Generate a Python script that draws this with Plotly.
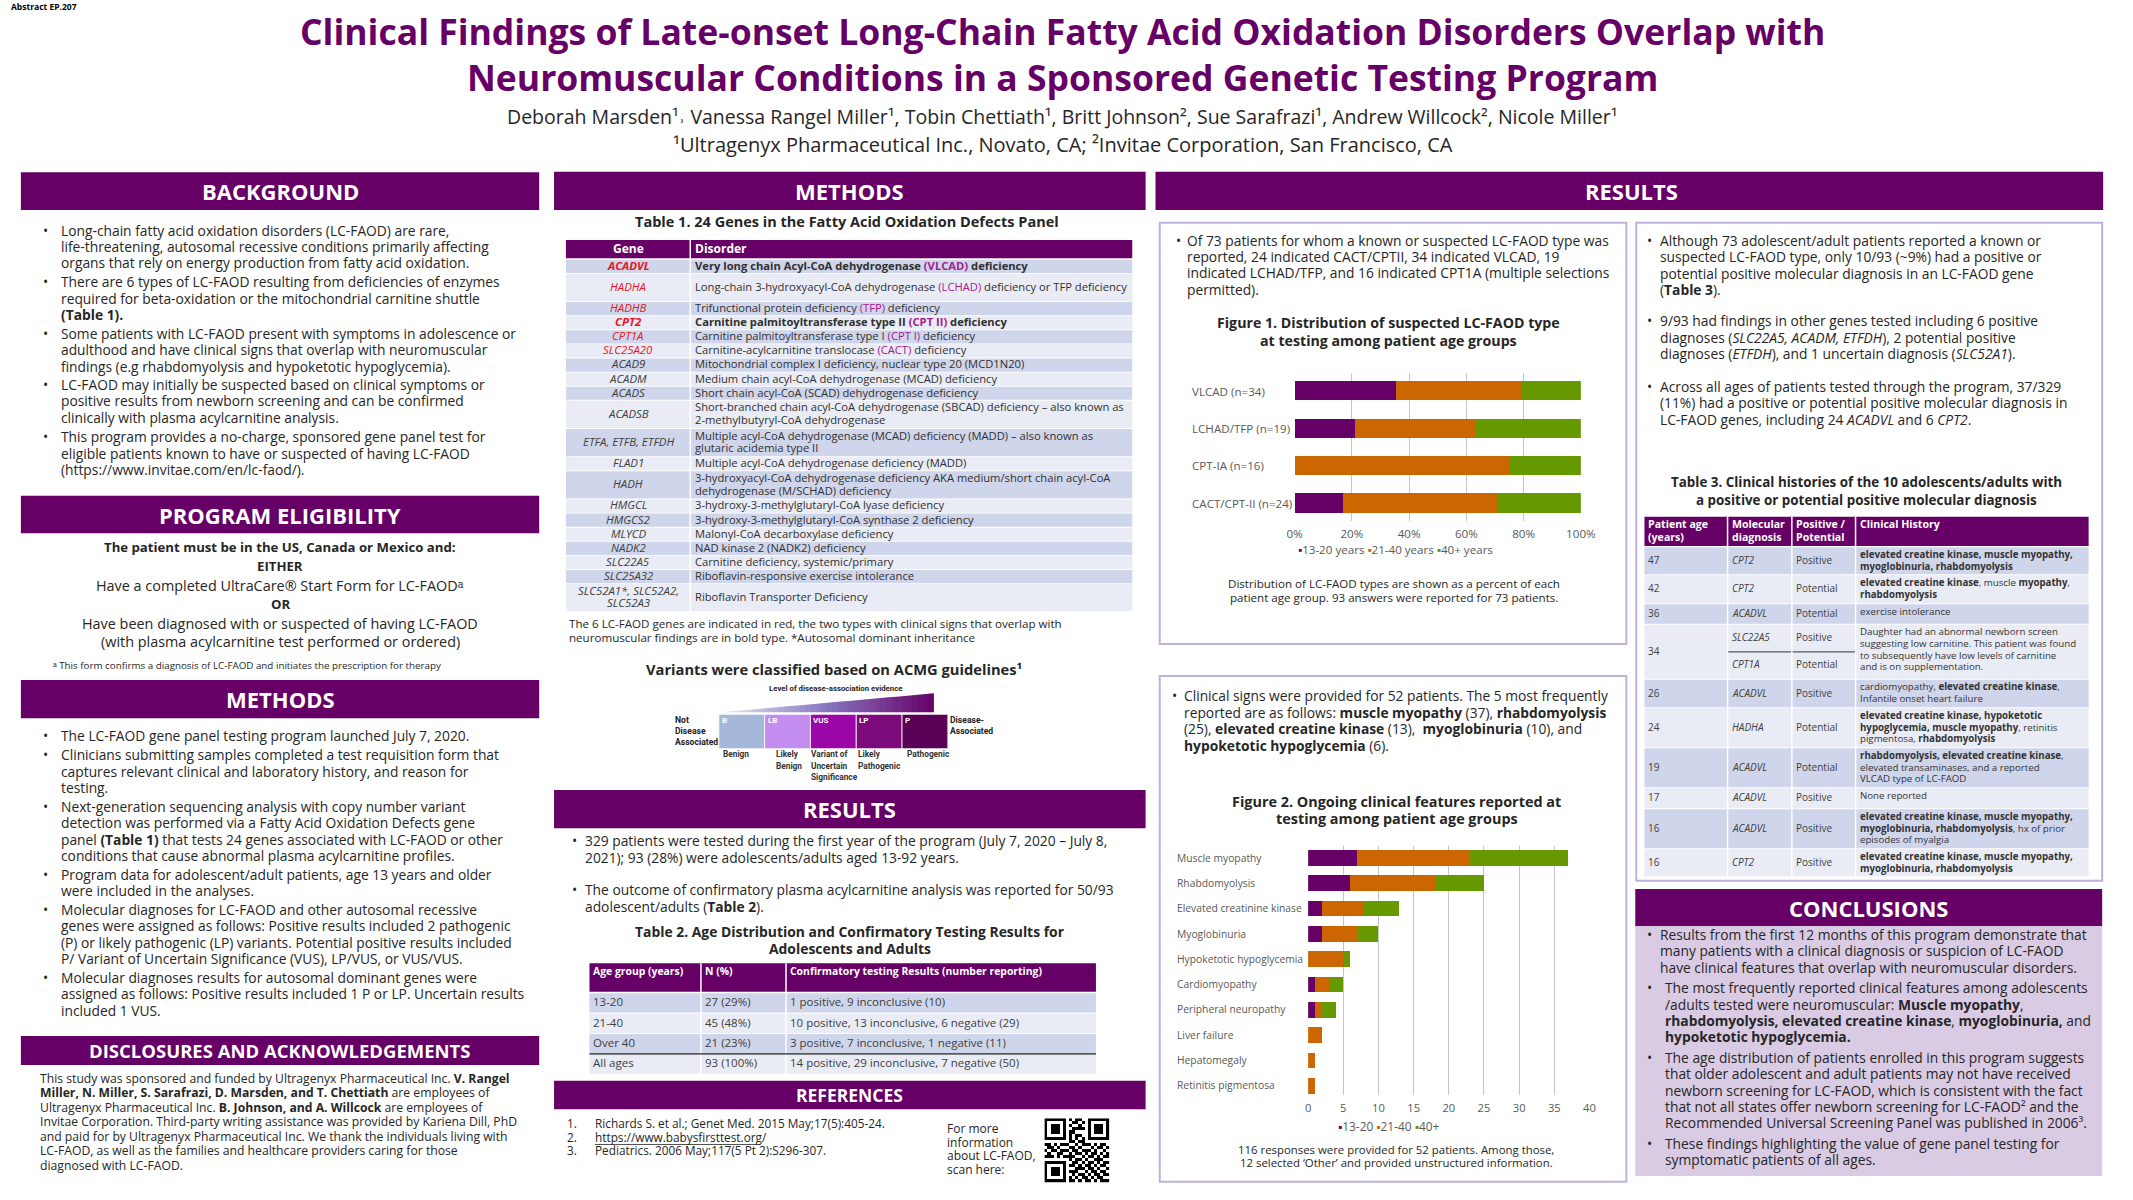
import re
import plotly.graph_objects as go

W, H = 2133, 1200

# ------------------------------------------------------------------ data
fig1_types = ["VLCAD (n=34)", "LCHAD/TFP (n=19)", "CPT-IA (n=16)", "CACT/CPT-II (n=24)"]
fig1_groups = ["13-20 years", "21-40 years", "40+ years"]
fig1_pct_13_20 = [35.3, 21.1, 0.0, 16.7]
fig1_pct_21_40 = [44.1, 42.1, 75.0, 54.2]
fig1_pct_40_plus = [20.6, 36.8, 25.0, 29.1]
fig1_ticks = [0, 20, 40, 60, 80, 100]
fig1_ticklabels = ["0%", "20%", "40%", "60%", "80%", "100%"]

fig2_features = ["Muscle myopathy", "Rhabdomyolysis", "Elevated creatinine kinase", "Myoglobinuria",
                 "Hypoketotic hypoglycemia", "Cardiomyopathy", "Peripheral neuropathy",
                 "Liver failure", "Hepatomegaly", "Retinitis pigmentosa"]
fig2_groups = ["13-20", "21-40", "40+"]
fig2_13_20 = [7, 6, 2, 2, 0, 1, 1, 0, 0, 0]
fig2_21_40 = [16, 12, 6, 5, 5, 2, 1, 2, 1, 1]
fig2_40_plus = [14, 7, 5, 3, 1, 2, 2, 0, 0, 0]
fig2_ticks = [0, 5, 10, 15, 20, 25, 30, 35, 40]

t1_genes = ["ACADVL", "HADHA", "HADHB", "CPT2", "CPT1A", "SLC25A20", "ACAD9", "ACADM", "ACADS",
            "ACADSB", "ETFA, ETFB, ETFDH", "FLAD1", "HADH", "HMGCL", "HMGCS2", "MLYCD", "NADK2",
            "SLC22A5", "SLC25A32", "SLC52A1*, SLC52A2,<br>SLC52A3"]
t1_disorders = [
    "Very long chain Acyl-CoA dehydrogenase (VLCAD) deficiency",
    "Long-chain 3-hydroxyacyl-CoA dehydrogenase (LCHAD) deficiency or TFP deficiency",
    "Trifunctional protein deficiency (TFP) deficiency",
    "Carnitine palmitoyltransferase type II (CPT II) deficiency",
    "Carnitine palmitoyltransferase type I (CPT I) deficiency",
    "Carnitine-acylcarnitine translocase (CACT) deficiency",
    "Mitochondrial complex I deficiency, nuclear type 20 (MCD1N20)",
    "Medium chain acyl-CoA dehydrogenase (MCAD) deficiency",
    "Short chain acyl-CoA (SCAD) dehydrogenase deficiency",
    "Short-branched chain acyl-CoA dehydrogenase (SBCAD) deficiency \u2013 also known as<br>2-methylbutyryl-CoA dehydrogenase",
    "Multiple acyl-CoA dehydrogenase (MCAD) deficiency (MADD) \u2013 also known as<br>glutaric acidemia type II",
    "Multiple acyl-CoA dehydrogenase deficiency (MADD)",
    "3-hydroxyacyl-CoA dehydrogenase deficiency AKA medium/short chain acyl-CoA<br>dehydrogenase (M/SCHAD) deficiency",
    "3-hydroxy-3-methylglutaryl-CoA lyase deficiency",
    "3-hydroxy-3-methylglutaryl-CoA synthase 2 deficiency",
    "Malonyl-CoA decarboxylase deficiency",
    "NAD kinase 2 (NADK2) deficiency",
    "Carnitine deficiency, systemic/primary",
    "Riboflavin-responsive exercise intolerance",
    "Riboflavin Transporter Deficiency",
]
t1_lcfaod_genes = ["ACADVL", "HADHA", "HADHB", "CPT2", "CPT1A", "SLC25A20"]
t1_lcfaod_abbrev = ["(VLCAD)", "(LCHAD)", "(TFP)", "(CPT II)", "(CPT I)", "(CACT)"]
t1_bold_genes = ["ACADVL", "CPT2"]

t2_header = ["Age group (years)", "N (%)", "Confirmatory testing Results (number reporting)"]
t2_age = ["13-20", "21-40", "Over 40", "All ages"]
t2_n = ["27 (29%)", "45 (48%)", "21 (23%)", "93 (100%)"]
t2_results = ["1 positive, 9 inconclusive (10)",
              "10 positive, 13 inconclusive, 6 negative (29)",
              "3 positive, 7 inconclusive, 1 negative (11)",
              "14 positive, 29 inconclusive, 7 negative (50)"]

t3_header = ["Patient age<br>(years)", "Molecular<br>diagnosis", "Positive /<br>Potential", "Clinical History"]
t3_age = ["47", "42", "36", "34", "26", "24", "19", "17", "16", "16"]
t3_mol = [["CPT2"], ["CPT2"], ["ACADVL"], ["SLC22A5", "CPT1A"], ["ACADVL"], ["HADHA"],
          ["ACADVL"], ["ACADVL"], ["ACADVL"], ["CPT2"]]
t3_status = [["Positive"], ["Potential"], ["Potential"], ["Positive", "Potential"], ["Positive"],
             ["Potential"], ["Potential"], ["Positive"], ["Positive"], ["Positive"]]
t3_history = [
    "<b>elevated creatine kinase, muscle myopathy,</b><br><b>myoglobinuria, rhabdomyolysis</b>",
    "<b>elevated creatine kinase</b>, muscle <b>myopathy</b>,<br><b>rhabdomyolysis</b>",
    "exercise intolerance",
    "Daughter had an abnormal newborn screen<br>suggesting low carnitine. This patient was found<br>to subsequently have low levels of carnitine<br>and is on supplementation.",
    "cardiomyopathy, <b>elevated creatine kinase</b>,<br>Infantile onset heart failure",
    "<b>elevated creatine kinase, hypoketotic</b><br><b>hypoglycemia, muscle myopathy</b>, retinitis<br>pigmentosa, <b>rhabdomyolysis</b>",
    "<b>rhabdomyolysis, elevated creatine kinase</b>,<br>elevated transaminases, and a reported<br>VLCAD type of LC-FAOD",
    "None reported",
    "<b>elevated creatine kinase, muscle myopathy,</b><br><b>myoglobinuria, rhabdomyolysis</b>, hx of prior<br>episodes of myalgia",
    "<b>elevated creatine kinase, muscle myopathy,</b><br><b>myoglobinuria, rhabdomyolysis</b>",
]

acmg_codes = ["B", "LB", "VUS", "LP", "P"]
acmg_names = ["Benign", "Likely<br>Benign", "Variant of<br>Uncertain<br>Significance",
              "Likely<br>Pathogenic", "Pathogenic"]

references = ["Richards S. et al.; Genet Med. 2015 May;17(5):405-24.",
              "https://www.babysfirsttest.org/",
              "Pediatrics. 2006 May;117(5 Pt 2):S296-307."]

qr_rows = [
    "1111111" + "0101100" + "1111111",
    "1000001" + "0011010" + "1000001",
    "1011101" + "0100100" + "1011101",
    "1011101" + "0011110" + "1011101",
    "1011101" + "0110000" + "1011101",
    "1000001" + "0101100" + "1000001",
    "1111111" + "0101010" + "1111111",
    "0000000" + "0110110" + "0000000",
    "1101011" + "1001011" + "1010110",
    "0110100" + "0110100" + "0101101",
    "1011011" + "1011011" + "1010010",
    "0100110" + "0101101" + "0110101",
    "1110101" + "1110010" + "1101011",
    "0000000" + "0101101" + "0011100",
    "1111111" + "0011010" + "1101011",
    "1000001" + "0110101" + "1010110",
    "1011101" + "0001110" + "1101001",
    "1011101" + "0111001" + "0110110",
    "1011101" + "0010110" + "1011011",
    "1000001" + "0101011" + "0101100",
    "1111111" + "0110101" + "1010111",
]

# ------------------------------------------------------------------ styles
PURPLE = "#660066"
TXT = "#262626"
CELL_TXT = "#404040"
GRAY = "#595959"
GRID = "#c6c6c6"
ROW_DARK = "#cfd5ea"
ROW_LIGHT = "#e9ebf5"
BORDER = "#bfb1da"
CONC_BG = "#d9cbe4"
ABBR = "#a3208f"
RED = "#e8141e"
AGE_COLORS = ["#660066", "#cc6600", "#669900"]
ACMG_COLORS = ["#a5b8da", "#c38ef0", "#9a06a8", "#7d0a7a", "#5a0056"]
BODY = "Open Sans, Roboto, Liberation Sans, sans-serif"
NARROW = "Liberation Sans Narrow, Roboto, sans-serif"

shapes, annotations = [], []


def X(px):
    return px / W


def Y(py):
    return 1 - py / H


def rect(x0, y0, x1, y1, fill=None, line=None, lw=0, layer="below"):
    shapes.append(dict(type="rect", xref="paper", yref="paper",
                       x0=X(x0), x1=X(x1), y0=Y(y1), y1=Y(y0),
                       fillcolor=fill if fill else "rgba(0,0,0,0)",
                       line=dict(color=line if line else "rgba(0,0,0,0)", width=lw),
                       layer=layer))


def hline(x0, x1, y, color, lw):
    shapes.append(dict(type="line", xref="paper", yref="paper", x0=X(x0), x1=X(x1),
                       y0=Y(y), y1=Y(y), line=dict(color=color, width=lw)))


def vline(x, y0, y1, color, lw):
    shapes.append(dict(type="line", xref="paper", yref="paper", x0=X(x), x1=X(x),
                       y0=Y(y0), y1=Y(y1), line=dict(color=color, width=lw)))


def split_lines(s):
    out, open_tags = [], []
    for line in s.split("<br>"):
        prefix = "".join("<%s>" % t for t in open_tags)
        for m in re.finditer(r"<(/?)(b|i)>", line):
            if m.group(1):
                if m.group(2) in open_tags:
                    open_tags.remove(m.group(2))
            else:
                open_tags.append(m.group(2))
        suffix = "".join("</%s>" % t for t in reversed(open_tags))
        out.append(prefix + line + suffix)
    return out


def txt(x, y, s, size=12.5, color=TXT, xa="left", family=BODY, anchor="first", lh=None, caps=False):
    """Each line placed separately; y = centre of first line, or of the block if anchor='middle'."""
    lines = split_lines(s)
    if lh is None:
        lh = 1.3 * size
    y0 = y - (len(lines) - 1) * lh / 2 if anchor == "middle" else y
    dx = {"left": -2, "center": 0, "right": 2}[xa]
    off = 0.0 if caps else 0.1 * size
    for k, line in enumerate(lines):
        yc = y0 + k * lh - off
        annotations.append(dict(x=X(x + dx), y=Y(yc), xref="paper", yref="paper", text=line,
                                showarrow=False, xanchor=xa, yanchor="middle", align=xa,
                                font=dict(family=family, size=size, color=color)))


def header(x0, x1, y0, y1, label, size=22, cx=None):
    rect(x0, y0, x1, y1, fill=PURPLE)
    txt(cx if cx else (x0 + x1) / 2, (y0 + y1) / 2, "<b>" + label + "</b>", size, "white",
        "center", anchor="middle", caps=True)


def bullets(xb, xt_list, ys, blocks, size, lh):
    for xt, y, lines in zip(xt_list, ys, blocks):
        txt(xb, y, "\u2022", size)
        txt(xt, y, "<br>".join(lines), size, lh=lh)


# ------------------------------------------------------------------ title
txt(3, 7, "<b>Abstract EP.207</b>", 8.5, "#000000")
annotations.append(dict(
    x=X(1066), y=Y(54.5), xref="paper", yref="paper", showarrow=False, xanchor="center",
    yanchor="middle", align="center",
    text="<b>Clinical Findings of Late-onset Long-Chain Fatty Acid Oxidation Disorders Overlap with</b><br>"
         "<b>Neuromuscular Conditions in a Sponsored Genetic Testing Program</b>",
    font=dict(family=BODY, size=35.5, color=PURPLE)))
txt(1066, 118, "Deborah Marsden\u00b9\u02d2 Vanessa Rangel Miller\u00b9, Tobin Chettiath\u00b9, "
    "Britt Johnson\u00b2, Sue Sarafrazi\u00b9, Andrew Willcock\u00b2, Nicole Miller\u00b9",
    19.5, TXT, "center")
txt(1066, 146, "\u00b9Ultragenyx Pharmaceutical Inc., Novato, CA; \u00b2Invitae Corporation, San Francisco, CA",
    20, TXT, "center")

# ------------------------------------------------------------------ column 1
header(13, 537, 172.3, 210, "BACKGROUND")
bullets(35, [54] * 5, [231.7, 283.3, 335, 386, 438.3], [
    ["Long-chain fatty acid oxidation disorders (LC-FAOD) are rare,",
     "life-threatening, autosomal recessive conditions primarily affecting",
     "organs that rely on energy production from fatty acid oxidation."],
    ["There are 6 types of LC-FAOD resulting from deficiencies of enzymes",
     "required for beta-oxidation or the mitochondrial carnitine shuttle",
     "<b>(Table 1).</b>"],
    ["Some patients with LC-FAOD present with symptoms in adolescence or",
     "adulthood and have clinical signs that overlap with neuromuscular",
     "findings (e.g rhabdomyolysis and hypoketotic hypoglycemia)."],
    ["LC-FAOD may initially be suspected based on clinical symptoms or",
     "positive results from newborn screening and can be confirmed",
     "clinically with plasma acylcarnitine analysis."],
    ["This program provides a no-charge, sponsored gene panel test for",
     "eligible patients known to have or suspected of having LC-FAOD",
     "(https://www.invitae.com/en/lc-faod/)."],
], 13.8, 16.2)

header(13, 537, 495.7, 533.3, "PROGRAM ELIGIBILITY")
txt(275, 548.3, "<b>The patient must be in the US, Canada or Mexico and:</b>", 13.2, TXT, "center")
txt(275, 567.7, "<b>EITHER</b>", 13.2, TXT, "center")
txt(275, 586.7, "Have a completed UltraCare\u00ae Start Form for LC-FAOD\u1d43", 14.4, TXT, "center")
txt(275, 605.7, "<b>OR</b>", 13.2, TXT, "center")
txt(275, 625, "Have been diagnosed with or suspected of having LC-FAOD", 14.4, TXT, "center")
txt(275, 643.3, "(with plasma acylcarnitine test performed or ordered)", 14.4, TXT, "center")
txt(45, 666.7, "\u1d43 This form confirms a diagnosis of LC-FAOD and initiates the prescription for therapy",
    9.8, TXT)

header(13, 537, 680, 718.3, "METHODS")
bullets(35, [54] * 6, [737.3, 756.3, 808, 875.7, 911, 979], [
    ["The LC-FAOD gene panel testing program launched July 7, 2020."],
    ["Clinicians submitting samples completed a test requisition form that",
     "captures relevant clinical and laboratory history, and reason for",
     "testing."],
    ["Next-generation sequencing analysis with copy number variant",
     "detection was performed via a Fatty Acid Oxidation Defects gene",
     "panel <b>(Table 1)</b> that tests 24 genes associated with LC-FAOD or other",
     "conditions that cause abnormal plasma acylcarnitine profiles."],
    ["Program data for adolescent/adult patients, age 13 years and older",
     "were included in the analyses."],
    ["Molecular diagnoses for LC-FAOD and other autosomal recessive",
     "genes were assigned as follows: Positive results included 2 pathogenic",
     "(P) or likely pathogenic (LP) variants. Potential positive results included",
     "P/ Variant of Uncertain Significance (VUS), LP/VUS, or VUS/VUS."],
    ["Molecular diagnoses results for autosomal dominant genes were",
     "assigned as follows: Positive results included 1 P or LP. Uncertain results",
     "included 1 VUS."],
], 13.8, 16.2)

header(13, 537, 1036, 1065, "DISCLOSURES AND ACKNOWLEDGEMENTS", 18.5)
txt(32, 1079.3, "<br>".join([
    "This study was sponsored and funded by Ultragenyx Pharmaceutical Inc. <b>V. Rangel</b>",
    "<b>Miller, N. Miller, S. Sarafrazi, D. Marsden, and T. Chettiath</b> are employees of",
    "Ultragenyx Pharmaceutical Inc. <b>B. Johnson, and A. Willcock</b> are employees of",
    "Invitae Corporation. Third-party writing assistance was provided by Kariena Dill, PhD",
    "and paid for by Ultragenyx Pharmaceutical Inc. We thank the individuals living with",
    "LC-FAOD, as well as the families and healthcare providers caring for those",
    "diagnosed with LC-FAOD."]), 12.2, TXT, lh=14.55)

# ------------------------------------------------------------------ column 2 : table 1
header(552, 1150, 171.7, 210, "METHODS")
txt(848, 223.3, "<b>Table 1. 24 Genes in the Fatty Acid Oxidation Defects Panel</b>", 14.5, TXT, "center")

T1_X0, T1_DIV, T1_X1 = 564, 689.7, 1136.5
T1_PITCH = 14.1
t1_units = [1, 2, 1, 1, 1, 1, 1, 1, 1, 2, 2, 1, 2, 1, 1, 1, 1, 1, 1, 2]
rect(T1_X0, 240, T1_X1, 258.3, fill=PURPLE)
txt((T1_X0 + T1_DIV) / 2, 249.2, "<b>Gene</b>", 12, "white", "center", anchor="middle")
txt(T1_DIV + 5, 249.2, "<b>Disorder</b>", 12, "white", "left", anchor="middle")
y = 259.3
for i, (g, d, u) in enumerate(zip(t1_genes, t1_disorders, t1_units)):
    h = u * T1_PITCH
    rect(T1_X0, y + 0.45, T1_X1, y + h - 0.45, fill=ROW_DARK if i % 2 == 0 else ROW_LIGHT)
    yc = y + h / 2
    gene_s = "<i>" + g.replace("<br>", "</i><br><i>") + "</i>"
    dis_s = d
    if g in t1_lcfaod_genes:
        ab = t1_lcfaod_abbrev[t1_lcfaod_genes.index(g)]
        dis_s = dis_s.replace(ab, "<span style='color:" + ABBR + "'>" + ab + "</span>")
    if g in t1_bold_genes:
        gene_s = "<b>" + gene_s + "</b>"
        dis_s = "<b>" + dis_s + "</b>"
    txt((T1_X0 + T1_DIV) / 2, yc, gene_s, 11.4, RED if g in t1_lcfaod_genes else CELL_TXT,
        "center", anchor="middle", lh=12.7)
    txt(T1_DIV + 5, yc, dis_s, 11.2, "#303030", "left", anchor="middle", lh=12.7)
    y += h
vline(T1_DIV, 240, y, "white", 1.5)
txt(567, 625, "The 6 LC-FAOD genes are indicated in red, the two types with clinical signs that overlap with<br>"
    "neuromuscular findings are in bold type. *Autosomal dominant inheritance", 11.6, TXT, lh=13.3)

# ACMG diagram
txt(835.5, 670.7, "<b>Variants were classified based on ACMG guidelines\u00b9</b>", 14.7, TXT, "center")
txt(837, 689, "<b>Level of disease-association evidence</b>", 7.8, TXT, "center", family=NARROW)
N = 40
xw0, xw1, yb_, yt_ = 720.0, 936.0, 712.3, 693.3
stops = [(0.0, (228, 234, 244)), (0.5, (135, 118, 192)), (1.0, (102, 0, 102))]


def grad(t):
    for (t0, c0), (t1, c1) in zip(stops[:-1], stops[1:]):
        if t <= t1:
            f = (t - t0) / (t1 - t0)
            return "rgb(%d,%d,%d)" % tuple(round(a + (b - a) * f) for a, b in zip(c0, c1))
    return "rgb(102,0,102)"


for k in range(N):
    xa = xw0 + (xw1 - xw0) * k / N
    xb = xw0 + (xw1 - xw0) * (k + 1) / N + (0.6 if k < N - 1 else 0)
    ya = yb_ - (yb_ - yt_) * k / N
    yb2 = yb_ - (yb_ - yt_) * min(1.0, (k + 1) / N)
    path = "M %f,%f L %f,%f L %f,%f L %f,%f Z" % (X(xa), Y(yb_), X(xa), Y(ya), X(xb), Y(yb2), X(xb), Y(yb_))
    shapes.append(dict(type="path", xref="paper", yref="paper", path=path,
                       fillcolor=grad((k + 0.5) / N), line=dict(width=0), layer="below"))

BOX_X0, BOX_W = 718.6, 46.3
name_dx = [4, 11, 1, 1.6, 5.4]
for i, (code, name, col) in enumerate(zip(acmg_codes, acmg_names, ACMG_COLORS)):
    bx = BOX_X0 + i * BOX_W
    rect(bx, 714.3, bx + BOX_W, 748.7, fill=col, line="white", lw=0.8)
    txt(bx + 3, 721, "<b>" + code + "</b>", 8, "white", family=NARROW)
    txt(bx + name_dx[i], 755.3, "<b>" + name + "</b>", 8.3, "#333333", family=NARROW, lh=11.2)
txt(674.6, 721, "<b>Not<br>Disease<br>Associated</b>", 8.6, "#222222", family=NARROW, lh=10.9)
txt(952.4, 721, "<b>Disease-<br>Associated</b>", 8.6, "#222222", family=NARROW, lh=10.9)

# ------------------------------------------------------------------ column 2 : results / table 2
header(552, 1150, 790, 828.3, "RESULTS", 22)
bullets(570, [582.8, 582.8], [842.3, 891], [
    ["329 patients were tested during the first year of the program (July 7, 2020 \u2013 July 8,",
     "2021); 93 (28%) were adolescents/adults aged 13-92 years."],
    ["The outcome of confirmatory plasma acylcarnitine analysis was reported for 50/93",
     "adolescent/adults (<b>Table 2</b>)."],
], 13.8, 16.7)
txt(851, 932.7, "<b>Table 2. Age Distribution and Confirmatory Testing Results for<br>Adolescents and Adults</b>",
    13.9, TXT, "center", lh=17.6)

T2_COLS = [587.8, 700.5, 786.5, 1099.8]
rect(T2_COLS[0], 963.3, T2_COLS[-1], 991.7, fill=PURPLE)
for cx, hd in zip(T2_COLS[:-1], t2_header):
    txt(cx + 4, 971.7, "<b>" + hd + "</b>", 10.4, "white")
T2_TOP, T2_PITCH = 992.7, 20.4
for i, row in enumerate(zip(t2_age, t2_n, t2_results)):
    y0 = T2_TOP + i * T2_PITCH
    rect(T2_COLS[0], y0 + 0.5, T2_COLS[-1], y0 + T2_PITCH - 0.5, fill=ROW_DARK if i % 2 == 0 else ROW_LIGHT)
    for cx, val in zip(T2_COLS[:-1], row):
        txt(cx + 4, y0 + T2_PITCH / 2, val, 11.5, CELL_TXT, anchor="middle")
t2_end = T2_TOP + len(t2_age) * T2_PITCH
for cx in T2_COLS[1:-1]:
    vline(cx, 963.3, t2_end, "white", 1.5)
hline(T2_COLS[0], T2_COLS[-1], T2_TOP + 3 * T2_PITCH, "#595959", 1.6)

# references
header(552, 1150, 1080.7, 1109.3, "REFERENCES", 17.5)
for i, (yy, ref) in enumerate(zip([1124.3, 1138.3, 1151.5], references)):
    txt(565.4, yy, "%d." % (i + 1), 11.8, TXT)
    txt(593.2, yy, ref, 11.8, TXT)
hline(593.2, 758, 1144.5, TXT, 0.8)
txt(949.3, 1130, "For more<br>information<br>about LC-FAOD,<br>scan here:", 12, TXT, lh=13.4)

# ------------------------------------------------------------------ column 3
header(1160, 2118, 171.7, 210, "RESULTS", 22, cx=1641)
rect(1164.3, 222.7, 1636, 644, line=BORDER, lw=2)
rect(1164.3, 676, 1636, 1181.7, line=BORDER, lw=2)
bullets(1180.7, [1192.3], [241.7], [
    ["Of 73 patients for whom a known or suspected LC-FAOD type was",
     "reported, 24 indicated CACT/CPTII, 34 indicated VLCAD, 19",
     "indicated LCHAD/TFP, and 16 indicated CPT1A (multiple selections",
     "permitted)."]], 13.8, 16.3)
txt(1396, 324.3, "<b>Figure 1. Distribution of suspected LC-FAOD type<br>at testing among patient age groups</b>",
    14.2, TXT, "center", lh=18)
leg1 = " ".join("<span style='color:%s'>\u25aa</span>%s" % (c, g)
                for g, c in zip(fig1_groups, AGE_COLORS))
txt(1403, 551, leg1, 11.6, GRAY, "center", anchor="middle")
txt(1401, 585, "Distribution of LC-FAOD types are shown as a percent of each<br>"
    "patient age group. 93 answers were reported for 73 patients.", 11.6, TXT, "center", lh=13.3)

bullets(1176.7, [1189.3], [697.3], [
    ["Clinical signs were provided for 52 patients. The 5 most frequently",
     "reported are as follows: <b>muscle myopathy</b> (37), <b>rhabdomyolysis</b>",
     "(25), <b>elevated creatine kinase</b> (13),  <b>myoglobinuria</b> (10), and",
     "<b>hypoketotic hypoglycemia</b> (6)."]], 13.8, 16.4)
txt(1403.7, 802.7, "<b>Figure 2. Ongoing clinical features reported at<br>testing among patient age groups</b>",
    14.4, TXT, "center", lh=17.3)
leg2 = " ".join("<span style='color:%s'>\u25aa</span>%s" % (c, g)
                for g, c in zip(fig2_groups, AGE_COLORS))
txt(1395.8, 1126.7, leg2, 11.9, GRAY, "center", anchor="middle")
txt(1403.3, 1151, "116 responses were provided for 52 patients. Among those,<br>"
    "12 selected \u2018Other\u2019 and provided unstructured information.", 11.4, TXT, "center", lh=13)

# category labels (left aligned, positioned on the category axes)
for cat in fig1_types:
    annotations.append(dict(x=X(1196.7 - 2), y=cat, xref="paper", yref="y", text=cat,
                            showarrow=False, xanchor="left", yanchor="middle",
                            font=dict(family=BODY, size=11.6, color=GRAY)))
for cat in fig2_features:
    annotations.append(dict(x=X(1181.7 - 2), y=cat, xref="paper", yref="y2", text=cat,
                            showarrow=False, xanchor="left", yanchor="middle",
                            font=dict(family=BODY, size=10.3, color=GRAY)))

# ------------------------------------------------------------------ column 4
rect(1646, 222.7, 2117, 880.7, line=BORDER, lw=2)
bullets(1656.7, [1670] * 3, [241.7, 322.3, 387.7], [
    ["Although 73 adolescent/adult patients reported a known or",
     "suspected LC-FAOD type, only 10/93 (~9%) had a positive or",
     "potential positive molecular diagnosis in an LC-FAOD gene",
     "(<b>Table 3</b>)."],
    ["9/93 had findings in other genes tested including 6 positive",
     "diagnoses (<i>SLC22A5, ACADM, ETFDH</i>), 2 potential positive",
     "diagnoses (<i>ETFDH</i>), and 1 uncertain diagnosis (<i>SLC52A1</i>)."],
    ["Across all ages of patients tested through the program, 37/329",
     "(11%) had a positive or potential positive molecular diagnosis in",
     "LC-FAOD genes, including 24 <i>ACADVL</i> and 6 <i>CPT2</i>."],
], 13.8, 16.4)
txt(1878.3, 483.3, "<b>Table 3. Clinical histories of the 10 adolescents/adults with<br>"
    "a positive or potential positive molecular diagnosis</b>", 13.4, TXT, "center", lh=18.4)

T3_COLS = [1654.3, 1738.3, 1803.3, 1867.7, 2103.3]
t3_heights = [27, 28, 19.5, 54, 27.5, 39, 39, 20, 39, 27]
rect(T3_COLS[0], 516.7, T3_COLS[-1], 546, fill=PURPLE)
for cx, hd in zip(T3_COLS[:-1], t3_header):
    txt(cx + 4, 525, "<b>" + hd + "</b>", 10.6, "white", lh=13.3)
y = 547.3
for i, (age, mols, stats, hist, h) in enumerate(zip(t3_age, t3_mol, t3_status, t3_history, t3_heights)):
    rect(T3_COLS[0], y, T3_COLS[-1], y + h, fill=ROW_DARK if i % 2 == 0 else ROW_LIGHT)
    txt(T3_COLS[0] + 4, y + h / 2, age, 10, CELL_TXT, anchor="middle")
    n = len(mols)
    for j, (m, s) in enumerate(zip(mols, stats)):
        yc = y + h * (j + 0.5) / n
        txt(T3_COLS[1] + 4, yc, "<i>" + m + "</i>", 10, CELL_TXT, anchor="middle")
        txt(T3_COLS[2] + 4, yc, s, 10, CELL_TXT, anchor="middle")
    if n > 1:
        hline(T3_COLS[1], T3_COLS[3], y + h / 2, "#595959", 1.2)
    txt(T3_COLS[3] + 4, y + 8, hist, 9.7, "#333333", lh=11.7)
    y += h + 1
for cx in T3_COLS[1:-1]:
    vline(cx, 516.7, y - 1, "white", 1.5)

header(1645, 2117, 889, 926, "CONCLUSIONS")
rect(1645, 926, 2117, 1176, fill=CONC_BG)
bullets(1656.7, [1670, 1675, 1675, 1675], [936, 989.3, 1059, 1145], [
    ["Results from the first 12 months of this program demonstrate that",
     "many patients with a clinical diagnosis or suspicion of LC-FAOD",
     "have clinical features that overlap with neuromuscular disorders."],
    ["The most frequently reported clinical features among adolescents",
     "/adults tested were neuromuscular: <b>Muscle myopathy</b>,",
     "<b>rhabdomyolysis, elevated creatine kinase</b>, <b>myoglobinuria,</b> and",
     "<b>hypoketotic hypoglycemia.</b>"],
    ["The age distribution of patients enrolled in this program suggests",
     "that older adolescent and adult patients may not have received",
     "newborn screening for LC-FAOD, which is consistent with the fact",
     "that not all states offer newborn screening for LC-FAOD\u00b2 and the",
     "Recommended Universal Screening Panel was published in 2006\u00b3."],
    ["These findings highlighting the value of gene panel testing for",
     "symptomatic patients of all ages."],
], 13.8, 16.3)

# ------------------------------------------------------------------ traces
fig = go.Figure()
for vals, name, col in zip([fig1_pct_13_20, fig1_pct_21_40, fig1_pct_40_plus], fig1_groups, AGE_COLORS):
    fig.add_trace(go.Bar(x=vals, y=fig1_types, orientation="h", name=name, width=0.51,
                         marker=dict(color=col, line=dict(width=0)), xaxis="x", yaxis="y",
                         showlegend=False, hoverinfo="x+name"))
for vals, name, col in zip([fig2_13_20, fig2_21_40, fig2_40_plus], fig2_groups, AGE_COLORS):
    fig.add_trace(go.Bar(x=vals, y=fig2_features, orientation="h", name=name, width=0.62,
                         marker=dict(color=col, line=dict(width=0)), xaxis="x2", yaxis="y2",
                         showlegend=False, hoverinfo="x+name"))
fig.add_trace(go.Heatmap(z=[[int(c) for c in r] for r in qr_rows], xaxis="x3", yaxis="y3",
                         colorscale=[[0, "white"], [1, "black"]], zmin=0, zmax=1,
                         showscale=False, hoverinfo="skip"))

axis_common = dict(showline=False, zeroline=False, ticks="", fixedrange=True)
fig.update_layout(
    width=W, height=H, margin=dict(l=0, r=0, t=0, b=0),
    paper_bgcolor="white", plot_bgcolor="rgba(0,0,0,0)",
    barmode="stack", bargap=0, showlegend=False,
    font=dict(family=BODY, color=TXT),
    xaxis=dict(domain=[X(1300.7), X(1590)], anchor="y", range=[0, 100], tickvals=fig1_ticks,
               ticktext=fig1_ticklabels, showgrid=True, gridcolor=GRID, gridwidth=1,
               tickfont=dict(size=11.6, color=GRAY, family=BODY), ticklabelstandoff=4, **axis_common),
    yaxis=dict(domain=[Y(521), Y(373.3)], anchor="x", type="category",
               categoryorder="array", categoryarray=fig1_types, range=[3.474, -0.479],
               showticklabels=False, showgrid=False, **axis_common),
    xaxis2=dict(domain=[X(1314.3), X(1598.7)], anchor="y2", range=[0, 40], tickvals=fig2_ticks,
                showgrid=True, gridcolor=GRID, gridwidth=1,
                tickfont=dict(size=11.2, color=GRAY, family=BODY), ticklabelstandoff=5, **axis_common),
    yaxis2=dict(domain=[Y(1095), Y(845.7)], anchor="x2", type="category",
                categoryorder="array", categoryarray=fig2_features, range=[9.38, -0.474],
                showticklabels=False, showgrid=False, **axis_common),
    xaxis3=dict(domain=[X(1047.7), X(1113.3)], anchor="y3", visible=False, fixedrange=True),
    yaxis3=dict(domain=[Y(1182.7), Y(1118.3)], anchor="x3", visible=False, autorange="reversed",
                fixedrange=True),
    shapes=shapes, annotations=annotations,
)

fig.write_html("out.html", config={"displayModeBar": False},
               post_script="document.body.style.margin='0';document.body.style.overflow='hidden';")
